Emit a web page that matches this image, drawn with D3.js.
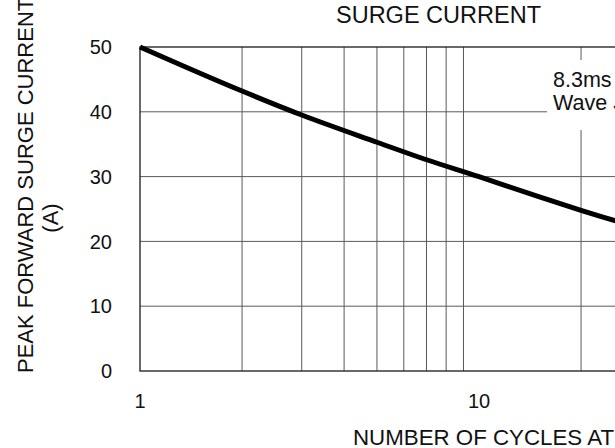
<!DOCTYPE html>
<html>
	<head>
		<meta charset="UTF-8">
		<script src="https://d3js.org/d3.v7.min.js"></script>
		<title>Surge current</title>
		<style>
			body { margin: 0; overflow: hidden; background: #fff; }
			text { font-family: "Liberation Sans", Arial, sans-serif; fill: #111; }
		</style>
	</head>
	<body>
		<div id="chart"></div>
		<script>

			// cycles (x, log) and peak surge current in A (y)
			var cycles = [1, 2, 3, 5, 7, 10, 15, 20, 30];
			var current = [50, 43.2, 39.5, 35.3, 32.6, 30.0, 26.9, 24.8, 22.0];

			var yTicks = [0, 10, 20, 30, 40, 50];
			var xTickLabels = [1, 10, 100];
			var xGrid = [2, 3, 4, 5, 6, 7, 8, 9, 20, 30, 40, 50, 60, 70, 80, 90];

			var width = 615, height = 448;

			var svg = d3.select("#chart").append("svg")
				.attr("width", width)
				.attr("height", height);

			// the plot runs past the right edge of the picture
			var x = d3.scaleLog().domain([1, 100]).range([140, 818]);
			var y = d3.scaleLinear().domain([0, 50]).range([371, 47]);

			var grid = svg.append("g");

			grid.selectAll(".vgrid")
				.data(xGrid)
				.enter().append("line")
				.attr("x1", function(d) { return x(d); })
				.attr("x2", function(d) { return x(d); })
				.attr("y1", y(0))
				.attr("y2", y(50))
				.attr("stroke", "#5a5a5a")
				.attr("stroke-width", 1);

			grid.selectAll(".hgrid")
				.data(yTicks.slice(1, -1))
				.enter().append("line")
				.attr("x1", x(1))
				.attr("x2", x(100))
				.attr("y1", function(d) { return y(d); })
				.attr("y2", function(d) { return y(d); })
				.attr("stroke", "#5a5a5a")
				.attr("stroke-width", 1);

			// frame
			svg.append("rect")
				.attr("x", x(1))
				.attr("y", y(50))
				.attr("width", x(100) - x(1))
				.attr("height", y(0) - y(50))
				.attr("fill", "none")
				.attr("stroke", "#1a1a1a")
				.attr("stroke-width", 1.3);

			// y tick labels
			svg.append("g")
				.selectAll("text")
				.data(yTicks)
				.enter().append("text")
				.attr("x", 112)
				.attr("y", function(d) { return y(d); })
				.attr("dy", "0.36em")
				.attr("text-anchor", "end")
				.attr("font-size", "20px")
				.text(function(d) { return d; });

			// x tick labels
			svg.append("g")
				.selectAll("text")
				.data(xTickLabels)
				.enter().append("text")
				.attr("x", function(d) { return x(d); })
				.attr("y", 408)
				.attr("text-anchor", "middle")
				.attr("font-size", "20px")
				.text(function(d) { return d; });

			// curve
			var line = d3.line()
				.x(function(d) { return x(d[0]); })
				.y(function(d) { return y(d[1]); })
				.curve(d3.curveMonotoneX);

			svg.append("path")
				.datum(d3.zip(cycles, current))
				.attr("d", line)
				.attr("fill", "none")
				.attr("stroke", "#000")
				.attr("stroke-width", 5);

			// note box over the grid
			svg.append("rect")
				.attr("x", 547)
				.attr("y", 60)
				.attr("width", 250)
				.attr("height", 70)
				.attr("fill", "#fff");

			svg.append("text")
				.attr("x", 553)
				.attr("y", 87)
				.attr("font-size", "21.5px")
				.text("8.3ms Single Half Sine");

			svg.append("text")
				.attr("x", 553)
				.attr("y", 110)
				.attr("font-size", "21.5px")
				.text("Wave JEDEC Method");

			// titles
			svg.append("text")
				.attr("x", 438.5)
				.attr("y", 23)
				.attr("text-anchor", "middle")
				.attr("font-size", "23.5px")
				.text("SURGE CURRENT");

			svg.append("text")
				.attr("x", 353)
				.attr("y", 445)
				.attr("font-size", "22.3px")
				.text("NUMBER OF CYCLES AT 60Hz");

			svg.append("text")
				.attr("transform", "translate(33,373) rotate(-90)")
				.attr("font-size", "22px")
				.text("PEAK FORWARD SURGE CURRENT");

			svg.append("text")
				.attr("transform", "translate(58,218) rotate(-90)")
				.attr("text-anchor", "middle")
				.attr("font-size", "22px")
				.text("(A)");

		</script>
	</body>
</html>
